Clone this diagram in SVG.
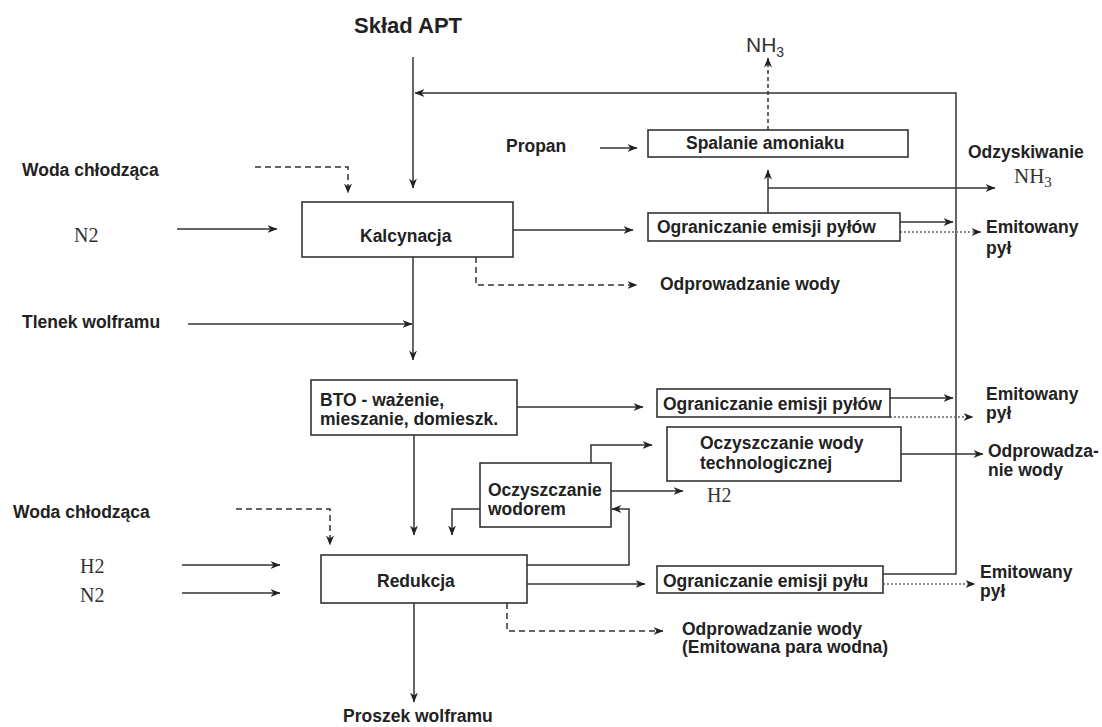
<svg xmlns="http://www.w3.org/2000/svg" width="1102" height="727" viewBox="0 0 1102 727">
<style>
.box{fill:#fff;stroke:#333;stroke-width:1.6}
.t{font-family:"Liberation Sans",Arial,sans-serif;font-weight:bold;font-size:17.5px;fill:#222}
.big{font-size:22px}
.chem{font-family:"Liberation Serif","Times New Roman",serif;font-size:20px;fill:#333}
.chs{font-family:"Liberation Sans",Arial,sans-serif;font-size:21px;fill:#333}
.ln{fill:none;stroke:#333;stroke-width:1.5}
.da{stroke-dasharray:6 4}
.dt{stroke:#666;stroke-dasharray:2 2}
</style>
<defs>
<marker id="ah" viewBox="0 0 10 8" markerWidth="10" markerHeight="8" refX="9.5" refY="4" orient="auto" markerUnits="userSpaceOnUse">
<path d="M0,0 L10,4 L0,8 L3,4 Z" fill="#222"/>
</marker>
</defs>
<rect width="1102" height="727" fill="#fff"/>
<g id="connectors">
<path class="ln" d="M413,57 V188" marker-end="url(#ah)"/>
<path class="ln" d="M883,574 H956 V93 H415" marker-end="url(#ah)"/>
<path class="ln da" d="M255,167 H348 V193" marker-end="url(#ah)"/>
<path class="ln" d="M177,229 H277" marker-end="url(#ah)"/>
<path class="ln" d="M513,230 H633" marker-end="url(#ah)"/>
<path class="ln da" d="M476,257 V285 H637" marker-end="url(#ah)"/>
<path class="ln" d="M413,257 V360" marker-end="url(#ah)"/>
<path class="ln" d="M188,324 H412" marker-end="url(#ah)"/>
<path class="ln" d="M600,148 H637" marker-end="url(#ah)"/>
<path class="ln da" d="M768,130 V58" marker-end="url(#ah)" style="stroke-dasharray:4 3"/>
<path class="ln" d="M768,213 V170" marker-end="url(#ah)"/>
<path class="ln" d="M768,188 H995" marker-end="url(#ah)"/>
<path class="ln" d="M900,222 H953" marker-end="url(#ah)"/>
<path class="ln dt" d="M900,232 H981" marker-end="url(#ah)"/>
<path class="ln" d="M517,407 H643" marker-end="url(#ah)"/>
<path class="ln" d="M890,398 H953" marker-end="url(#ah)"/>
<path class="ln dt" d="M890,417 H973" marker-end="url(#ah)"/>
<path class="ln" d="M414,435 V535" marker-end="url(#ah)"/>
<path class="ln" d="M480,509 H452 V535" marker-end="url(#ah)"/>
<path class="ln" d="M591,463 V445 H652" marker-end="url(#ah)"/>
<path class="ln" d="M611,491 H683" marker-end="url(#ah)"/>
<path class="ln" d="M901,454 H983" marker-end="url(#ah)"/>
<path class="ln" d="M527,565 H629 V509 H612" marker-end="url(#ah)"/>
<path class="ln da" d="M236,509 H330 V545" marker-end="url(#ah)"/>
<path class="ln" d="M182,565 H280" marker-end="url(#ah)"/>
<path class="ln" d="M182,593 H280" marker-end="url(#ah)"/>
<path class="ln" d="M527,584 H645" marker-end="url(#ah)"/>
<path class="ln dt" d="M883,584 H975" marker-end="url(#ah)"/>
<path class="ln da" d="M507,603 V631 H663" marker-end="url(#ah)"/>
<path class="ln" d="M414,603 V702" marker-end="url(#ah)"/>
</g>
<g id="kalcynacja"><rect class="box" x="302" y="202" width="211" height="55"/><text class="t" x="360" y="242">Kalcynacja</text></g>
<g id="spalanie"><rect class="box" x="648" y="130" width="260" height="27"/><text class="t" x="686" y="149">Spalanie amoniaku</text></g>
<g id="ogr1"><rect class="box" x="648" y="213" width="252" height="28"/><text class="t" x="657" y="233">Ograniczanie emisji pyłów</text></g>
<g id="bto"><rect class="box" x="311" y="380" width="206" height="55"/><text class="t" x="320" y="406">BTO - ważenie,</text><text class="t" x="320" y="425">mieszanie, domieszk.</text></g>
<g id="ogr2"><rect class="box" x="657" y="389" width="233" height="28"/><text class="t" x="663" y="410">Ograniczanie emisji pyłów</text></g>
<g id="wodatech"><rect class="box" x="667" y="427" width="234" height="54"/><text class="t" x="700" y="449">Oczyszczanie wody</text><text class="t" x="700" y="469">technologicznej</text></g>
<g id="wodorem"><rect class="box" x="480" y="463" width="131" height="64"/><text class="t" x="488" y="496">Oczyszczanie</text><text class="t" x="488" y="515">wodorem</text></g>
<g id="redukcja"><rect class="box" x="321" y="555" width="206" height="48"/><text class="t" x="377" y="587">Redukcja</text></g>
<g id="ogr3"><rect class="box" x="657" y="566" width="226" height="27"/><text class="t" x="663" y="587">Ograniczanie emisji pyłu</text></g>
<g id="labels">
<text class="t big" x="354" y="33">Skład APT</text>
<text class="chs" x="746" y="52">NH<tspan font-size="14" dy="5">3</tspan></text>
<text class="t" x="506" y="152">Propan</text>
<text class="t" x="22" y="176">Woda chłodząca</text>
<text class="chem" x="74" y="242">N2</text>
<text class="t" x="968" y="158">Odzyskiwanie</text>
<text class="chem" x="1014" y="183" style="font-size:21px">NH<tspan font-size="15" dy="4">3</tspan></text>
<text class="t" x="986" y="233">Emitowany</text>
<text class="t" x="986" y="254">pył</text>
<text class="t" x="660" y="290">Odprowadzanie wody</text>
<text class="t" x="22" y="328">Tlenek wolframu</text>
<text class="t" x="986" y="400">Emitowany</text>
<text class="t" x="986" y="419">pył</text>
<text class="t" x="988" y="457">Odprowadza-</text>
<text class="t" x="988" y="476">nie wody</text>
<text class="chem" x="707" y="502">H2</text>
<text class="t" x="13" y="518">Woda chłodząca</text>
<text class="chem" x="80" y="573">H2</text>
<text class="chem" x="80" y="602">N2</text>
<text class="t" x="980" y="578">Emitowany</text>
<text class="t" x="980" y="597">pył</text>
<text class="t" x="682" y="635">Odprowadzanie wody</text>
<text class="t" x="682" y="653">(Emitowana para wodna)</text>
<text class="t" x="343" y="722">Proszek wolframu</text>
</g>
</svg>
